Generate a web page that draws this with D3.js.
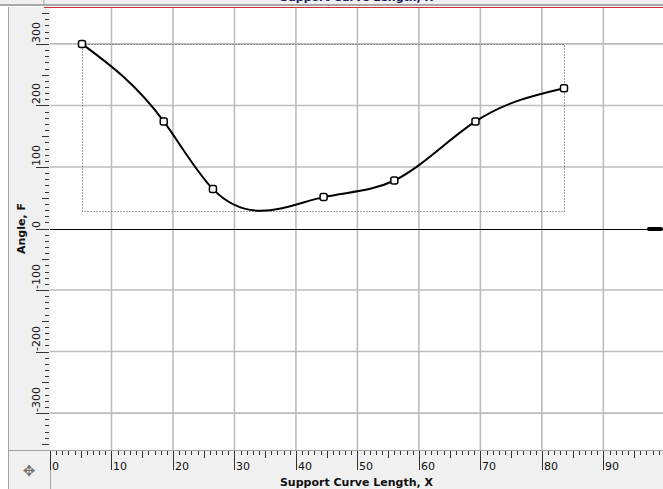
<!DOCTYPE html>
<html><head><meta charset="utf-8">
<script src="https://cdn.jsdelivr.net/npm/d3@7"></script>
<style>html,body{margin:0;padding:0;background:#fff;overflow:hidden}</style>
</head><body>
<svg id="c" width="663" height="489"></svg>
<script>
// ---- data ----
const xValues = [5.2, 18.5, 26.5, 44.5, 56.0, 69.2, 83.6];
const yValues = [300, 174, 64, 51, 78, 174, 228];
const xTickLabels = [0, 10, 20, 30, 40, 50, 60, 70, 80, 90];
const yTickLabels = [300, 200, 100, 0, -100, -200, -300];
const xTitle = "Support Curve Length, X";
const yTitle = "Angle, F";

const W = 663, H = 489;
const L = 50, R = 663, T = 7, B = 450;
const svg = d3.select("#c");
const font = "'DejaVu Sans', Verdana, sans-serif";

const x = d3.scaleLinear().domain([0, 99.7]).range([L, R]);
const y = d3.scaleLinear().domain([-360, 360]).range([B, T]);

// custom d3 curve: natural cubic spline y(x)
function curveSplineX(context) {
  return {
    _ctx: context,
    areaStart() {}, areaEnd() {},
    lineStart() { this._x = []; this._y = []; },
    point(px, py) { this._x.push(+px); this._y.push(+py); },
    lineEnd() {
      const X = this._x, Y = this._y, n = X.length, c = this._ctx;
      if (!n) return;
      c.moveTo(X[0], Y[0]);
      if (n < 3) { for (let i = 1; i < n; i++) c.lineTo(X[i], Y[i]); return; }
      const h = [], d = [];
      for (let i = 0; i < n - 1; i++) { h[i] = X[i+1] - X[i]; d[i] = (Y[i+1] - Y[i]) / h[i]; }
      // tridiagonal solve for second derivatives M (natural ends)
      const M = new Array(n).fill(0), a = [], b = [], cc = [], r = [];
      for (let i = 1; i < n - 1; i++) {
        a[i] = h[i-1]; b[i] = 2 * (h[i-1] + h[i]); cc[i] = h[i]; r[i] = 6 * (d[i] - d[i-1]);
      }
      for (let i = 2; i < n - 1; i++) {
        const m = a[i] / b[i-1]; b[i] -= m * cc[i-1]; r[i] -= m * r[i-1];
      }
      for (let i = n - 2; i >= 1; i--) M[i] = (r[i] - (i < n - 2 ? cc[i] * M[i+1] : 0)) / b[i];
      for (let i = 0; i < n - 1; i++) {
        const s0 = d[i] - h[i] * (2 * M[i] + M[i+1]) / 6;
        const s1 = d[i] + h[i] * (M[i] + 2 * M[i+1]) / 6;
        const k = h[i] / 3;
        c.bezierCurveTo(X[i] + k, Y[i] + s0 * k, X[i+1] - k, Y[i+1] - s1 * k, X[i+1], Y[i+1]);
      }
    }
  };
}

// backgrounds
svg.append("rect").attr("x",0).attr("y",0).attr("width",W).attr("height",H).attr("fill","#fff");
svg.append("rect").attr("x",0).attr("y",0).attr("width",W).attr("height",4.5).attr("fill","#f0f0f0");
svg.append("rect").attr("x",0).attr("y",4).attr("width",W).attr("height",2).attr("fill","#a8a8a8");
svg.append("line").attr("x1",44).attr("x2",44).attr("y1",0).attr("y2",5).attr("stroke","#a0a0a0");
svg.append("text").attr("x",280).attr("y",0.5).attr("font-family",font).attr("font-size",11)
  .attr("font-weight","bold").attr("fill","#1a1a60").text(xTitle);
svg.append("rect").attr("x",8).attr("y",T).attr("width",L-8).attr("height",H-T).attr("fill","#f0f0f0");
svg.append("rect").attr("x",L).attr("y",B).attr("width",R-L).attr("height",H-B).attr("fill","#f0f0f0");
svg.append("line").attr("x1",8.5).attr("x2",8.5).attr("y1",T).attr("y2",H).attr("stroke","#a0a0a0");
svg.append("line").attr("x1",8).attr("x2",W).attr("y1",B+0.5).attr("y2",B+0.5).attr("stroke","#a0a0a0");
svg.append("line").attr("x1",L+0.5).attr("x2",L+0.5).attr("y1",B).attr("y2",H).attr("stroke","#a0a0a0");
svg.append("line").attr("x1",44).attr("x2",W).attr("y1",T+0.5).attr("y2",T+0.5).attr("stroke","#c83232");

// grid
const g = svg.append("g");
g.selectAll(".vg").data(xTickLabels.filter(d=>d>0)).enter().append("line")
  .attr("x1",d=>x(d)).attr("x2",d=>x(d)).attr("y1",T+1).attr("y2",B)
  .attr("stroke","#bcbcbc").attr("stroke-width",1.6);
g.selectAll(".hg").data(yTickLabels.filter(d=>d!==0)).enter().append("line")
  .attr("x1",L).attr("x2",R).attr("y1",d=>y(d)).attr("y2",d=>y(d))
  .attr("stroke","#bcbcbc").attr("stroke-width",1.6);
g.append("line").attr("x1",L).attr("x2",R).attr("y1",Math.round(y(0))+0.5).attr("y2",Math.round(y(0))+0.5)
  .attr("stroke","#000").attr("stroke-width",1);
g.append("line").attr("x1",649).attr("x2",661).attr("y1",y(0)+0.5).attr("y2",y(0)+0.5)
  .attr("stroke","#000").attr("stroke-width",4).attr("stroke-linecap","round");

// x ticks
const xt = d3.range(0, 100, 1);
svg.append("g").selectAll("line").data(xt).enter().append("line")
  .attr("x1",d=>Math.round(x(d))+0.5).attr("x2",d=>Math.round(x(d))+0.5)
  .attr("y1",B+1).attr("y2",d=> d%10===0 ? B+20 : d%5===0 ? B+8 : B+5)
  .attr("stroke","#333").attr("stroke-width",1);
svg.append("g").selectAll("text").data(xTickLabels).enter().append("text")
  .attr("x",d=>Math.round(x(d))+2).attr("y",B+20)
  .attr("font-family",font).attr("font-size",11).attr("fill","#111").text(d=>d);

// y ticks
const yt = d3.range(-350, 360, 10);
svg.append("g").selectAll("line").data(yt).enter().append("line")
  .attr("y1",d=>Math.round(y(d))+0.5).attr("y2",d=>Math.round(y(d))+0.5)
  .attr("x1",L-1).attr("x2",d=> d%100===0 ? L-14 : d%50===0 ? L-8 : L-5)
  .attr("stroke","#333").attr("stroke-width",1);
svg.append("g").selectAll("text").data(yTickLabels).enter().append("text")
  .attr("transform",d=>`translate(${L-10},${Math.round(y(d))-1}) rotate(-90)`)
  .attr("font-family",font).attr("font-size",11).attr("fill","#111").text(d=>d);

// titles
svg.append("text").attr("x",(L+R)/2).attr("y",H-3).attr("text-anchor","middle")
  .attr("font-family",font).attr("font-size",11).attr("font-weight","bold").attr("fill","#111").text(xTitle);
svg.append("text").attr("transform",`translate(25,${(T+B)/2}) rotate(-90)`).attr("text-anchor","middle")
  .attr("font-family",font).attr("font-size",11).attr("font-weight","bold").attr("fill","#111").text(yTitle);

// move icon
svg.append("text").attr("x",29).attr("y",476).attr("text-anchor","middle")
  .attr("font-family",font).attr("font-size",15).attr("fill","#707070").text("\u2725");

// curve
const pts = xValues.map((v,i)=>[v, yValues[i]]);
const line = d3.line().x(d=>x(d[0])).y(d=>y(d[1])).curve(curveSplineX);
const path = svg.append("path").attr("d",line(pts)).attr("fill","none")
  .attr("stroke","#000").attr("stroke-width",2);
const bb = path.node().getBBox();
svg.insert("rect","path").attr("x",Math.round(bb.x)+0.5).attr("y",Math.round(bb.y)+0.5)
  .attr("width",Math.round(bb.width)).attr("height",Math.round(bb.height))
  .attr("fill","none").attr("stroke","#444").attr("stroke-width",1).attr("stroke-dasharray","1,2");

svg.append("g").selectAll("rect").data(pts).enter().append("rect")
  .attr("x",d=>x(d[0])-3.5).attr("y",d=>y(d[1])-3.5).attr("width",7).attr("height",7)
  .attr("rx",2).attr("fill","#fff").attr("stroke","#000").attr("stroke-width",1.5);
</script>
</body></html>
